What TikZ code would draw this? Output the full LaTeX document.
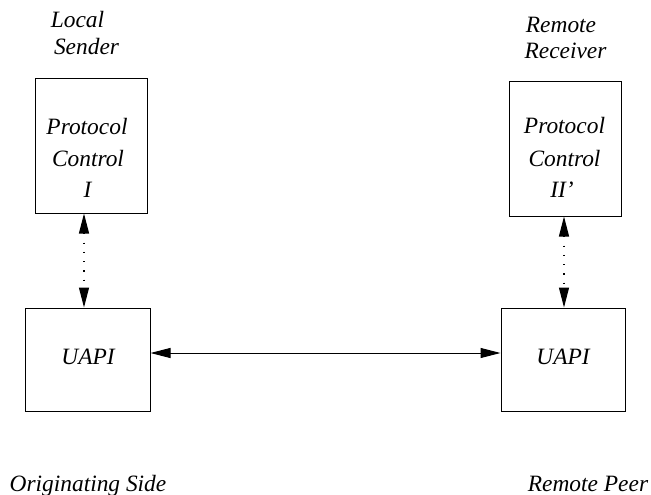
\documentclass[tikz,border=0pt]{standalone}
\usepackage{fontspec}
\setmainfont{Liberation Serif}
\usetikzlibrary{arrows.meta}
\begin{document}
\begin{tikzpicture}[x=1pt,y=-1pt,
  box/.style={draw,line width=1pt,rectangle,inner sep=0pt},
  lbl/.style={anchor=base,inner sep=0pt,font=\fontsize{23.4}{28}\selectfont\itshape},
  tip/.style={Triangle[length=20pt,width=10pt]},
  dotline/.style={line width=1.2pt,dash pattern=on 1.2pt off 8.1pt,{Triangle[length=20pt,width=10pt]}-{Triangle[length=20pt,width=10pt]}},
  link/.style={line width=1pt,{Triangle[length=20pt,width=10pt]}-{Triangle[length=20pt,width=10pt]}}]
\useasboundingbox (0,0) rectangle (651,495);
% boxes
\node[box,minimum width=112pt,minimum height=134pt] (lpc) at (91,146) {};
\node[box,minimum width=112pt,minimum height=134pt] (rpc) at (565,149) {};
\node[box,minimum width=125pt,minimum height=103pt] (lu) at (87.5,359.5) {};
\node[box,minimum width=124pt,minimum height=103pt] (ru) at (563,359.5) {};
% labels
\node[lbl] (t1) at (77.5,28) {Local};
\node[lbl] (t2) at (86.5,55) {Sender};
\node[lbl] (t3) at (561,33) {Remote};
\node[lbl] (t4) at (565.5,59) {Receiver};
\node[lbl] (t5) at (87,134) {Protocol};
\node[lbl] (t6) at (88,166) {Control};
\node[lbl] (t7) at (87.5,197) {I};
\node[lbl] (t8) at (564.5,133) {Protocol};
\node[lbl] (t9) at (564.5,166) {Control};
\node[lbl] (t10) at (562,197) {II’};
\node[lbl] (t11) at (88,364) {UAPI};
\node[lbl] (t12) at (563,364) {UAPI};
\node[lbl] (t13) at (88,491) {Originating Side};
\node[lbl] (t14) at (588,491) {Remote Peer};
% connectors
\coordinate (la) at ([xshift=-3.5pt]lu.north);
\coordinate (ra) at ([xshift=1pt]ru.north);
\draw[dotline] (la |- lpc.south) -- (la);
\draw[dotline] (ra |- rpc.south) -- (ra);
\draw[link] ([yshift=6.5pt]lu.east) -- ([yshift=6.5pt]ru.west);
\end{tikzpicture}
\end{document}
